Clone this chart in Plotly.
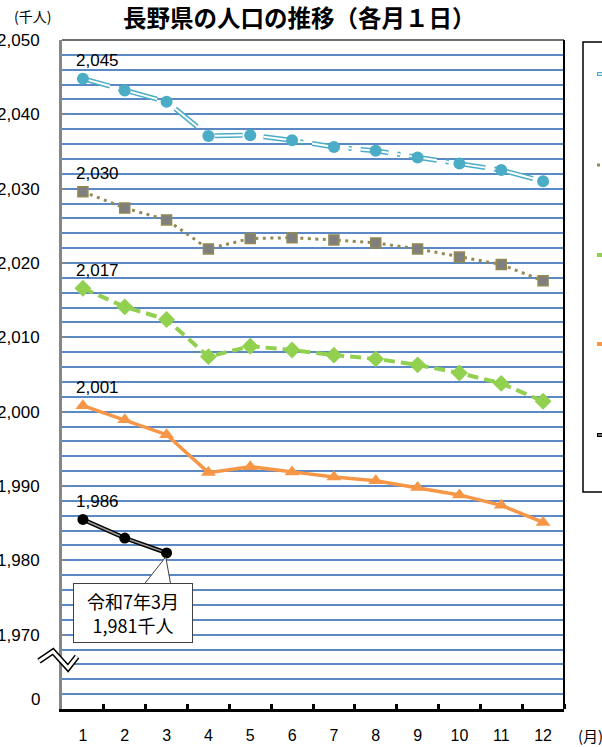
import plotly.graph_objects as go

# ---- data (thousand persons, 1st of each month) ----
months = list(range(1, 13))
month_labels = [str(m) for m in months]
y_tick_vals = [1970, 1980, 1990, 2000, 2010, 2020, 2030, 2040, 2050]
y_tick_text = ["1,970", "1,980", "1,990", "2,000", "2,010", "2,020", "2,030", "2,040", "2,050"]

series_a = [2044.8, 2043.2, 2041.7, 2037.1, 2037.2, 2036.5, 2035.6, 2035.1, 2034.2, 2033.4, 2032.5, 2031.0]
series_b = [2029.6, 2027.4, 2025.8, 2021.9, 2023.3, 2023.4, 2023.1, 2022.7, 2021.9, 2020.8, 2019.8, 2017.6]
series_c = [2016.6, 2014.1, 2012.4, 2007.4, 2008.8, 2008.3, 2007.6, 2007.1, 2006.3, 2005.2, 2003.8, 2001.4]
series_d = [2000.8, 1998.9, 1996.9, 1991.8, 1992.6, 1991.9, 1991.2, 1990.7, 1989.8, 1988.8, 1987.4, 1985.1]
series_e = [1985.5, 1983.0, 1981.0]

C_A = "#4BACC6"
C_B = "#948A54"
C_C = "#92D050"
C_D = "#F79646"
C_E = "#000000"

NUM_FONT = "Liberation Sans, Arial, sans-serif"
JP_FONT = "Noto Sans CJK JP, sans-serif"

fig = go.Figure()

m_a = months[:len(series_a)]
m_e = months[:len(series_e)]

# lines
fig.add_trace(go.Scatter(x=m_a, y=series_a, mode="lines",
                         line=dict(color=C_A, width=5, dash="28px,9px,3px,9px"), hoverinfo="skip"))
fig.add_trace(go.Scatter(x=m_a, y=series_a, mode="lines",
                         line=dict(color="white", width=2, dash="28px,9px,3px,9px"), hoverinfo="skip"))
fig.add_trace(go.Scatter(x=months, y=series_b, mode="lines",
                         line=dict(color=C_B, width=3, dash="3px,4.5px"), hoverinfo="skip"))
fig.add_trace(go.Scatter(x=months, y=series_c, mode="lines",
                         line=dict(color=C_C, width=4, dash="11px,6px"), hoverinfo="skip"))
fig.add_trace(go.Scatter(x=months, y=series_d, mode="lines",
                         line=dict(color=C_D, width=3.5), hoverinfo="skip"))
fig.add_trace(go.Scatter(x=m_e, y=series_e, mode="lines",
                         line=dict(color=C_E, width=4.5), hoverinfo="skip"))
fig.add_trace(go.Scatter(x=m_e, y=series_e, mode="lines",
                         line=dict(color="#9A9A9A", width=1.5), hoverinfo="skip"))

# markers
fig.add_trace(go.Scatter(x=m_a, y=series_a, mode="markers",
                         marker=dict(symbol="circle", size=12, color=C_A)))
fig.add_trace(go.Scatter(x=months, y=series_b, mode="markers",
                         marker=dict(symbol="square", size=10, color="#7F7F7F",
                                     line=dict(color=C_B, width=1.5))))
fig.add_trace(go.Scatter(x=months, y=series_c, mode="markers",
                         marker=dict(symbol="diamond", size=13, color=C_C)))
fig.add_trace(go.Scatter(x=months, y=series_d, mode="markers",
                         marker=dict(symbol="triangle-up", size=13, color=C_D)))
fig.add_trace(go.Scatter(x=m_e, y=series_e, mode="markers",
                         marker=dict(symbol="circle", size=11, color=C_E)))


def px(xp):
    return (xp - 62) / 502


def py(yp):
    return (709 - yp) / 669


annotations = []
# first-point data labels
for s in [series_a, series_b, series_c, series_d, series_e]:
    annotations.append(dict(x=months[0], y=s[0], xref="x", yref="y",
                            text=f"{s[0]:,.0f}", showarrow=False,
                            xshift=15, yshift=18,
                            font=dict(family=NUM_FONT, size=17, color="black")))

# callout for latest value
annotations.append(dict(x=px(132.5), y=py(612.5), xref="paper", yref="paper",
                        xanchor="center", yanchor="middle",
                        text=f"令和7年{m_e[-1]}月<br>{series_e[-1]:,.0f}千人",
                        showarrow=False, align="center", width=110, height=50,
                        bgcolor="white", bordercolor="#404040", borderwidth=1, borderpad=4,
                        font=dict(family=JP_FONT, size=18, color="black")))

annotations.append(dict(x=px(299), y=py(17), xref="paper", yref="paper",
                        text="<b>長野県の人口の推移（各月１日）</b>", showarrow=False,
                        xanchor="center", yanchor="middle",
                        font=dict(family=JP_FONT, size=23.5, color="black")))
annotations.append(dict(x=px(32), y=py(16), xref="paper", yref="paper",
                        text="(千人)", showarrow=False, xanchor="center", yanchor="middle",
                        font=dict(family=JP_FONT, size=14, color="black")))
annotations.append(dict(x=px(590), y=py(735), xref="paper", yref="paper",
                        text="(月)", showarrow=False, xanchor="center", yanchor="middle",
                        font=dict(family=JP_FONT, size=15, color="black")))
annotations.append(dict(x=px(42), y=py(699), xref="paper", yref="paper",
                        text="0", showarrow=False, xanchor="right", yanchor="middle",
                        font=dict(family=NUM_FONT, size=17, color="black")))

shapes = []
# callout wedge (white, pointing at the latest point)
shapes.append(dict(type="path", xref="x", yref="y", layer="above",
                   path=f"M 2.41,1976.4 L {m_e[-1] - 0.02},{series_e[-1] - 0.55} L 3.11,1976.4 Z",
                   fillcolor="white", line=dict(color="#404040", width=1)))
# plot border
shapes.append(dict(type="line", xref="paper", yref="paper", x0=0, x1=1, y0=1, y1=1,
                   line=dict(color="#404040", width=1.5)))
shapes.append(dict(type="line", xref="paper", yref="paper", x0=1, x1=1, y0=0, y1=1,
                   line=dict(color="black", width=2)))
# axis break zigzag
zz = [(39, 661), (53, 651.5), (68, 668), (77, 656.5)]
zpath = "M " + " L ".join(f"{px(a):.4f},{py(b):.4f}" for a, b in zz)
shapes.append(dict(type="path", xref="paper", yref="paper", path=zpath,
                   line=dict(color="black", width=6), layer="above"))
shapes.append(dict(type="path", xref="paper", yref="paper", path=zpath,
                   line=dict(color="white", width=3), layer="above"))
# legend box (cut off at right edge)
shapes.append(dict(type="rect", xref="paper", yref="paper", x0=px(583), x1=px(640),
                   y0=py(492), y1=py(42), line=dict(color="black", width=1.5), fillcolor="white"))
leg = [(74, C_A), (165, C_B), (255, C_C), (344, C_D), (435, C_E)]
for i, (yy, col) in enumerate(leg):
    if i == 1:
        shapes.append(dict(type="line", xref="paper", yref="paper", x0=px(597), x1=px(600),
                           y0=py(yy), y1=py(yy), line=dict(color=col, width=3)))
    else:
        shapes.append(dict(type="line", xref="paper", yref="paper", x0=px(597), x1=px(605),
                           y0=py(yy), y1=py(yy), line=dict(color=col, width=4)))
        if i in (0, 4):
            shapes.append(dict(type="line", xref="paper", yref="paper", x0=px(598), x1=px(605),
                               y0=py(yy), y1=py(yy),
                               line=dict(color="white" if i == 0 else "#9A9A9A", width=1.5)))

GRID = "#5A89C6"
fig.update_layout(
    width=602, height=747,
    margin=dict(l=62, r=38, t=40, b=38, autoexpand=False),
    paper_bgcolor="white", plot_bgcolor="white",
    showlegend=False,
    annotations=annotations,
    shapes=shapes,
    xaxis=dict(range=[0.5, 12.5], tickvals=months, ticktext=month_labels,
               ticks="", showgrid=False, zeroline=False, automargin=False,
               showline=True, linecolor="black", linewidth=3,
               ticklabelstandoff=10,
               minor=dict(tickvals=[m + 0.5 for m in months], ticks="inside",
                          ticklen=5, tickwidth=2.5, tickcolor="black", showgrid=False),
               tickfont=dict(family=NUM_FONT, size=16, color="black"),
               fixedrange=True),
    yaxis=dict(range=[1960, 2050], tickvals=y_tick_vals, ticktext=y_tick_text,
               ticks="inside", ticklen=4, tickwidth=1.5, tickcolor="#868686",
               showgrid=True, gridcolor=GRID, gridwidth=1.6, zeroline=False, automargin=False,
               showline=True, linecolor="#868686", linewidth=3,
               ticklabelstandoff=16,
               minor=dict(dtick=2, tick0=1960, showgrid=True, gridcolor=GRID, gridwidth=1.6),
               tickfont=dict(family=NUM_FONT, size=17, color="black"),
               fixedrange=True),
)

fig.write_html("out.html", config={"displayModeBar": False},
               post_script="document.body.style.margin='0';")
